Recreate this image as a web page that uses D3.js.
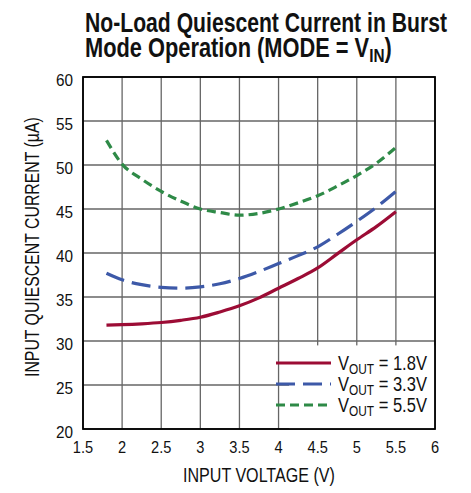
<!DOCTYPE html>
<html>
<head>
<meta charset="utf-8">
<script src="https://cdn.jsdelivr.net/npm/d3@7"></script>
<style>
  body { margin: 0; background: #fff; }
  svg text { font-family: "Liberation Sans", Arial, sans-serif; fill: #111; }
</style>
</head>
<body>
<div id="okvir"></div>
<script>
// data
const vin = [1.8, 2.0, 2.25, 2.5, 2.75, 3.0, 3.25, 3.5, 3.75, 4.0, 4.25, 4.5, 4.75, 5.0, 5.25, 5.5]
const iq18 = [31.8, 31.85, 31.95, 32.1, 32.35, 32.7, 33.3, 34.0, 34.9, 36.0, 37.1, 38.3, 39.9, 41.5, 43.0, 44.7]
const iq33 = [37.7, 36.95, 36.4, 36.1, 36.0, 36.15, 36.5, 37.1, 37.9, 38.8, 39.7, 40.7, 42.1, 43.6, 45.2, 47.0]
const iq55 = [52.8, 50.1, 48.4, 47.0, 45.9, 45.0, 44.6, 44.3, 44.5, 45.0, 45.7, 46.5, 47.6, 48.8, 50.2, 52.0]
const xTicks = [1.5, 2, 2.5, 3, 3.5, 4, 4.5, 5, 5.5, 6]
const yTicks = [20, 25, 30, 35, 40, 45, 50, 55, 60]
const seriesNames = ["1.8V", "3.3V", "5.5V"]

const serije = [
  { name: seriesNames[0], vals: iq18, color: "#9c0c35", dash: null },
  { name: seriesNames[1], vals: iq33, color: "#3d59a8", dash: "19,8" },
  { name: seriesNames[2], vals: iq55, color: "#2e8a47", dash: "9,5" },
]

let dimenzije = {
  sirina: 471,
  visina: 493,
  margine: { top: 77, right: 36, bottom: 64, left: 83 },
}
dimenzije.grSirina = dimenzije.sirina - dimenzije.margine.left - dimenzije.margine.right
dimenzije.grVisina = dimenzije.visina - dimenzije.margine.top - dimenzije.margine.bottom

const okvir = d3.select("#okvir").append("svg")
  .attr("width", dimenzije.sirina)
  .attr("height", dimenzije.visina)

// uski tekst: fiksni faktor ili ciljana sirina
function uskiTekst(roditelj, x, y, opt, graditelj) {
  const g = roditelj.append("g")
    .attr("transform", `translate(${x}, ${y})` + (opt.rot ? ` rotate(${opt.rot})` : ""))
  const t = g.append("text")
    .style("font-size", opt.size + "px")
    .style("font-weight", opt.bold ? "bold" : "normal")
  graditelj(t)
  const w = t.node().getBBox().width
  const s = opt.width ? opt.width / w : (opt.scale || 0.85)
  let off = 0
  if (opt.anchor === "middle") off = -w * s / 2
  if (opt.anchor === "end") off = -w * s
  t.attr("transform", `translate(${off}, 0) scale(${s}, 1)`)
  return t
}

// naslov
uskiTekst(okvir, 85, 32, { size: 27, bold: true, width: 362 }, t => t.text("No-Load Quiescent Current in Burst"))
uskiTekst(okvir, 85, 57, { size: 27, bold: true, width: 307 }, t => {
  t.append("tspan").text("Mode Operation (MODE = V")
  t.append("tspan").attr("dy", 5).style("font-size", "19px").text("IN")
  t.append("tspan").attr("dy", -5).text(")")
})

const granice = okvir.append("g")
  .attr("transform", `translate(${dimenzije.margine.left}, ${dimenzije.margine.top})`)

const xSkala = d3.scaleLinear().domain([1.5, 6]).range([0, dimenzije.grSirina])
const ySkala = d3.scaleLinear().domain([20, 60]).range([dimenzije.grVisina, 0])

// mreza
granice.append("g").selectAll("line")
  .data(xTicks)
  .join("line")
  .attr("x1", d => xSkala(d)).attr("x2", d => xSkala(d))
  .attr("y1", 0).attr("y2", dimenzije.grVisina)
  .attr("stroke", "#666").attr("stroke-width", 1.3)
granice.append("g").selectAll("line")
  .data(yTicks)
  .join("line")
  .attr("y1", d => ySkala(d)).attr("y2", d => ySkala(d))
  .attr("x1", 0).attr("x2", dimenzije.grSirina)
  .attr("stroke", "#666").attr("stroke-width", 1.3)

// oznake osi
const fmt = d3.format("")
xTicks.forEach(v => {
  uskiTekst(granice, xSkala(v), dimenzije.grVisina + 24, { size: 17, scale: 0.86, anchor: "middle" }, t => t.text(fmt(v)))
})
yTicks.forEach(v => {
  uskiTekst(granice, -10, ySkala(v) + 8.5, { size: 17, scale: 0.9, anchor: "end" }, t => t.text(fmt(v)))
})

uskiTekst(okvir, 259, 482, { size: 19.5, width: 152, anchor: "middle" }, t => t.text("INPUT VOLTAGE (V)"))
uskiTekst(okvir, 39, 247, { size: 19.5, width: 260, anchor: "middle", rot: -90 }, t => t.text("INPUT QUIESCENT CURRENT (µA)"))

// legenda pozadina
const legX = xSkala(4.25) - 9
const legY = ySkala(29.5)
granice.append("rect")
  .attr("x", legX)
  .attr("y", legY)
  .attr("width", dimenzije.grSirina - legX)
  .attr("height", dimenzije.grVisina - legY)
  .attr("fill", "#fff")

// okvir grafa
granice.append("rect")
  .attr("width", dimenzije.grSirina)
  .attr("height", dimenzije.grVisina)
  .attr("fill", "none")
  .attr("stroke", "#000")
  .attr("stroke-width", 1.8)

// krivulje
const linija = d3.line()
  .x((d, i) => xSkala(vin[i]))
  .y(d => ySkala(d))
  .curve(d3.curveMonotoneX)

granice.selectAll(".krivulja")
  .data(serije)
  .join("path")
  .attr("class", "krivulja")
  .attr("d", d => linija(d.vals))
  .attr("fill", "none")
  .attr("stroke", d => d.color)
  .attr("stroke-width", 3.2)
  .attr("stroke-dasharray", d => d.dash)

// legenda
const legenda = granice.append("g")
legenda.selectAll("g")
  .data(serije)
  .join("g")
  .each(function(d, i) {
    const g = d3.select(this)
    const y = 286 + i * 21
    g.append("line")
      .attr("x1", 193).attr("x2", 248)
      .attr("y1", y).attr("y2", y)
      .attr("stroke", d.color)
      .attr("stroke-width", 3.2)
      .attr("stroke-dasharray", d.dash)
    uskiTekst(g, 255, y + 6.5, { size: 19.5, width: 89 }, t => {
      t.append("tspan").text("V")
      t.append("tspan").attr("dy", 4).style("font-size", "14px").text("OUT")
      t.append("tspan").attr("dy", -4).text(" = " + d.name)
    })
  })
</script>
</body>
</html>
